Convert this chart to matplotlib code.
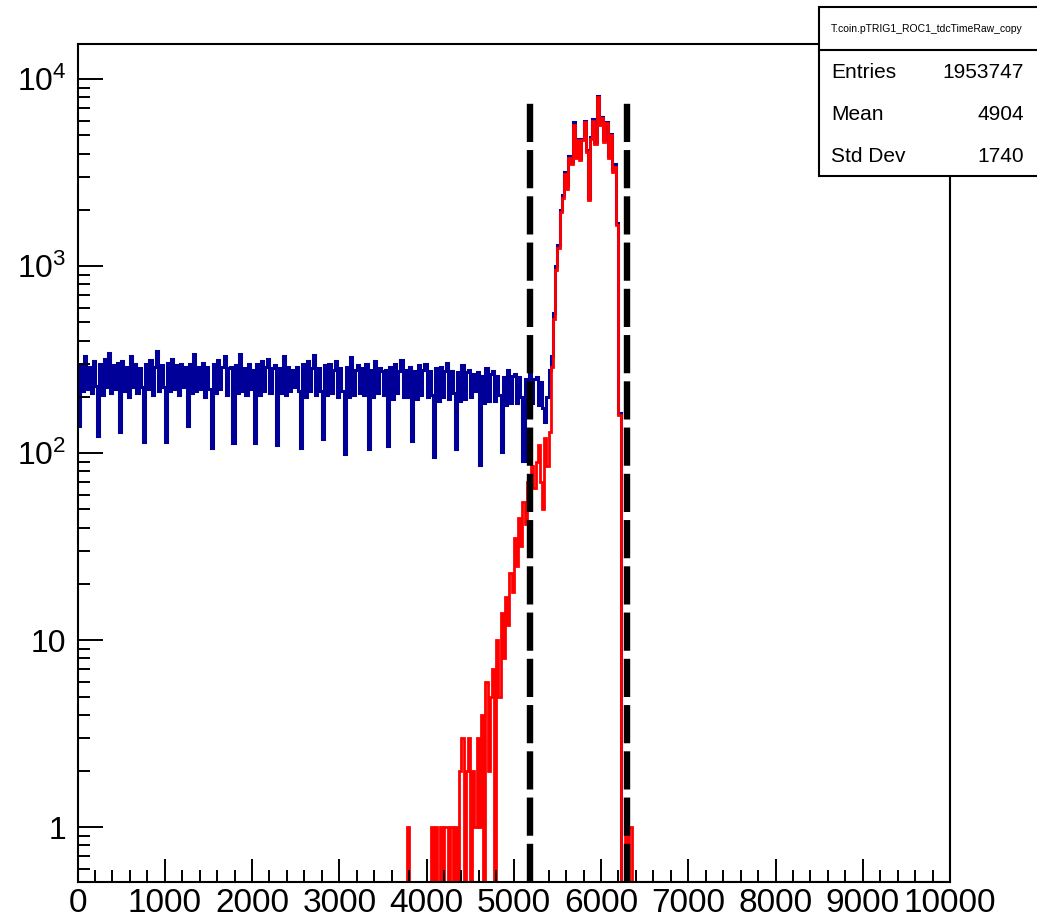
import numpy as np
import matplotlib
matplotlib.use("Agg")
import matplotlib.pyplot as plt
from matplotlib.patches import Rectangle
from matplotlib.lines import Line2D
from matplotlib.ticker import MultipleLocator, LogLocator, FuncFormatter, NullFormatter

plt.rcParams["font.family"] = ["Liberation Sans", "DejaVu Sans"]
plt.rcParams["mathtext.fontset"] = "custom"
plt.rcParams["mathtext.rm"] = "Liberation Sans"
plt.rcParams["mathtext.it"] = "Liberation Sans:italic"
plt.rcParams["lines.scale_dashes"] = False

# ---- data (bin width 25) ----
bin_width = 25
x_range = (0, 10000)

# all triggers, bins starting at 0
blue_counts = [
    140, 300, 215, 330, 220, 290, 210, 310, 230, 123,
    300, 205, 320, 225, 345, 210, 295, 220, 305, 130,
    310, 215, 290, 200, 330, 225, 300, 210, 285, 225,
    115, 300, 220, 315, 205, 290, 350, 215, 295, 225,
    115, 305, 215, 320, 220, 295, 205, 300, 225, 290,
    140, 300, 210, 340, 215, 290, 220, 305, 200, 290,
    220, 107, 300, 210, 315, 220, 290, 330, 205, 285,
    290, 114, 295, 210, 340, 215, 285, 205, 300, 220,
    280, 114, 300, 205, 310, 215, 290, 320, 210, 285,
    295, 110, 285, 210, 330, 205, 290, 215, 280, 225,
    290, 215, 107, 300, 200, 310, 215, 285, 335, 205,
    285, 215, 119, 295, 205, 300, 210, 280, 310, 200,
    285, 215, 99, 290, 200, 325, 205, 280, 295, 210,
    285, 205, 300, 105, 280, 200, 310, 210, 285, 275,
    205, 280, 109, 290, 195, 300, 210, 275, 315, 200,
    280, 200, 290, 116, 275, 195, 295, 205, 280, 300,
    200, 275, 205, 96, 285, 190, 290, 200, 275, 305,
    195, 275, 210, 105, 270, 190, 295, 195, 270, 280,
    200, 265, 215, 270, 87, 260, 185, 285, 190, 265,
    275, 190, 260, 205, 102, 255, 180, 280, 185, 260,
    265, 185, 255, 200, 91, 250, 175, 270, 185, 250,
    255, 180, 240, 175, 146, 200,
    280, 330, 560, 1000, 1300, 2000, 2400, 3200, 2700, 3900,
    3600, 5900, 3900, 4800, 3800, 4800, 6000, 4200, 2300, 4900,
    6100, 4600, 8100, 5800, 6300, 4700, 5900, 3900, 5100, 3300,
    3500, 1700, 165, 0,
]

# triggers passing the cut, bins starting at red_start
red_start = 3775
red_counts = [
    1,
    0, 0, 0, 0, 0, 0, 0, 0, 0, 0,
    1, 0, 1, 0, 1, 0, 1, 1, 0, 1, 0, 1, 0, 2,
    3, 0, 2, 3, 0, 2, 1,
    3, 1, 4, 0, 6, 2, 5,
    7, 0,
    10, 5, 14, 8, 17,
    12, 23, 18, 35, 25,
    45, 32, 55, 42,
    70, 55, 85, 65, 90,
    110, 70, 50, 120, 85,
    130, 290, 520, 950, 1250, 1950, 2300, 3100, 2600, 3800,
    3500, 5700, 3800, 4700, 3700, 4700, 5900, 4100, 2250, 4800,
    6000, 4500, 8000, 5700, 6200, 4600, 5800, 3800, 5000, 3200,
    3400, 1650, 160, 0,
    0, 1, 0, 1,
]

cut_lo, cut_hi = 5190, 6300
cut_top = 8150

stats_title = "T.coin.pTRIG1_ROC1_tdcTimeRaw_copy"
stats_names = ["Entries", "Mean", "Std Dev"]
stats_values = ["1953747", "4904", "1740"]

y_lim = (0.51, 15400)

# ---- figure ----
W, H = 1037, 921
fig = plt.figure(figsize=(W / 100, H / 100), dpi=100)
fig.patch.set_facecolor("white")
ax = fig.add_axes([77.5 / W, 1 - 882 / H, (950 - 77.5) / W, (882 - 44) / H])

edges = np.arange(x_range[0], x_range[1] + bin_width, bin_width)
nbins = len(edges) - 1
blue = np.zeros(nbins)
blue[:len(blue_counts)] = blue_counts
red = np.zeros(nbins)
i0 = red_start // bin_width
red[i0:i0 + len(red_counts)] = red_counts

# empty bins sit on the bottom of the log axis, like ROOT does
ax.stairs(np.clip(blue, y_lim[0], None), edges, baseline=None,
          color="#000099", lw=2.2)
ax.stairs(np.clip(red, y_lim[0], None), edges, baseline=None,
          color="#ff0000", lw=2.0)

for xc in (cut_lo, cut_hi):
    ax.add_line(Line2D([xc, xc], [y_lim[0], cut_top], color="black",
                       lw=4.6, linestyle=(0, (27.5, 5.8)),
                       solid_capstyle="butt", dash_capstyle="butt"))

ax.set_xlim(*x_range)
ax.set_yscale("log")
ax.set_ylim(*y_lim)

ax.xaxis.set_major_locator(MultipleLocator(1000))
ax.xaxis.set_minor_locator(MultipleLocator(200))
ax.yaxis.set_major_locator(LogLocator(base=10, numticks=10))
ax.yaxis.set_minor_locator(LogLocator(base=10, subs=np.arange(2, 10), numticks=20))
ax.yaxis.set_minor_formatter(NullFormatter())

def ylab(v, pos):
    e = int(round(np.log10(v)))
    if e == 0:
        return "1"
    if e == 1:
        return "10"
    return r"$10^{%d}$" % e

ax.yaxis.set_major_formatter(FuncFormatter(ylab))
ax.xaxis.set_major_formatter(FuncFormatter(lambda v, p: "%d" % v))

ax.tick_params(axis="x", which="major", direction="in", length=16.5, width=1.4,
               labelsize=24, pad=4, top=False)
ax.tick_params(axis="x", which="minor", direction="in", length=8.6, width=1.4, top=False)
ax.tick_params(axis="y", which="major", direction="in", length=18, width=1.4,
               labelsize=23, pad=8, right=False)
ax.tick_params(axis="y", which="minor", direction="in", length=8.6, width=1.4, right=False)
for sp in ax.spines.values():
    sp.set_linewidth(1.5)

# ---- stats box ----
def fx(px):
    return px / W

def fy(py):
    return 1 - py / H

box = Rectangle((fx(819), fy(176)), fx(1045) - fx(819), fy(7) - fy(176),
                transform=fig.transFigure, facecolor="white", edgecolor="black",
                lw=1.5, zorder=10)
fig.patches.append(box)
fig.add_artist(Line2D([fx(819), fx(1045)], [fy(50), fy(50)],
                      transform=fig.transFigure, color="black", lw=1.5, zorder=11))
fig.text(fx(927), fy(29), stats_title, ha="center", va="center",
         fontsize=7.5, zorder=12)
for k, (nm, val) in enumerate(zip(stats_names, stats_values)):
    yy = fy(72 + 42.5 * k)
    fig.text(fx(831), yy, nm, ha="left", va="center", fontsize=15, zorder=12)
    fig.text(fx(1024), yy, val, ha="right", va="center", fontsize=15, zorder=12)

fig.savefig("out.png", dpi=100, facecolor="white")
